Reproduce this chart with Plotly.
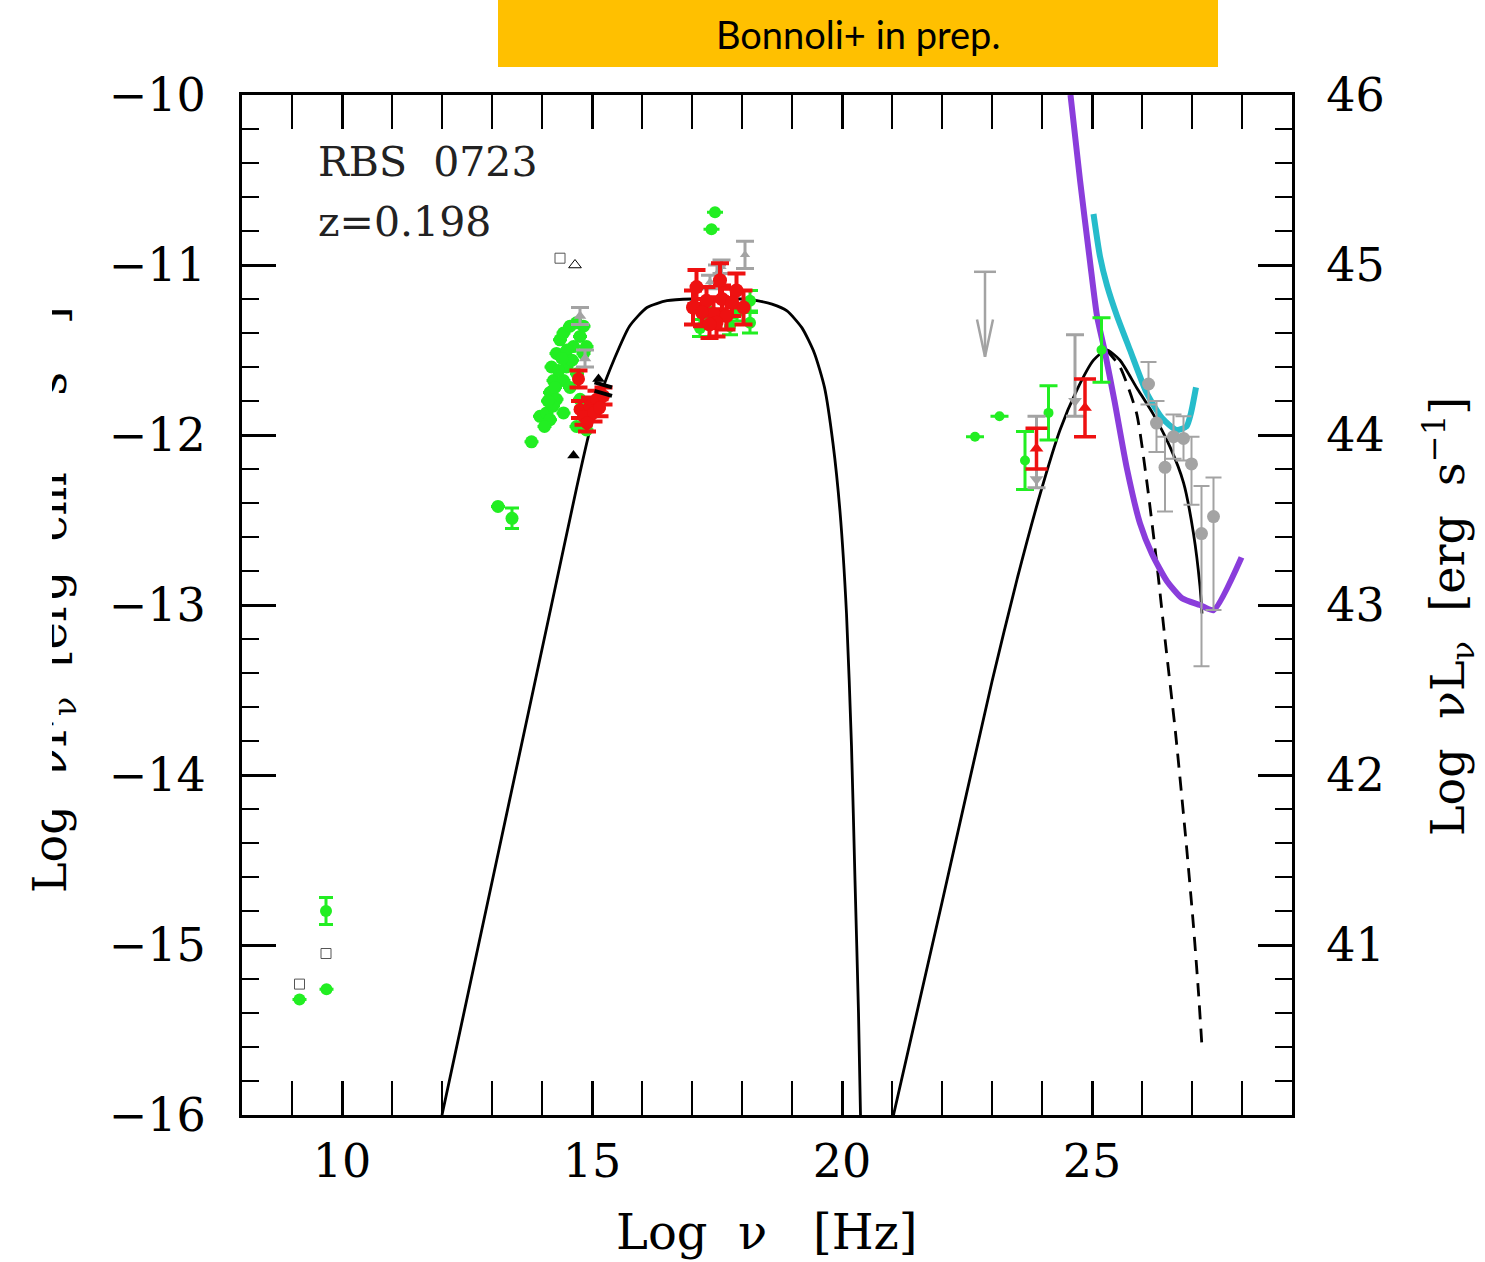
import plotly.graph_objects as go

# ---------------- model curves (Log nu [Hz], Log nuFnu) ----------------
sync_x = [12.0, 12.73, 13.46, 14.19, 14.7, 14.95, 15.15, 15.45, 15.75, 16.1, 16.5, 17.0, 17.5,
          18.0, 18.3, 18.6, 18.9, 19.2, 19.45, 19.65, 19.82, 19.96, 20.09, 20.19, 20.26, 20.33, 20.37]
sync_y = [-16.0, -15.0, -14.0, -13.0, -12.3, -11.98, -11.78, -11.55, -11.36, -11.25, -11.21, -11.2, -11.2,
          -11.2, -11.21, -11.23, -11.27, -11.37, -11.52, -11.72, -12.05, -12.45, -13.05, -13.83, -14.62, -15.4, -16.0]

ic_x = [21.03, 22.0, 23.0, 23.5, 23.96, 24.36, 24.69, 25.03, 25.29, 25.56, 25.89, 26.23, 26.56, 26.83, 27.03, 27.16, 27.2]
ic_y = [-16.0, -14.75, -13.45, -12.85, -12.35, -11.97, -11.74, -11.56, -11.5, -11.56, -11.72, -11.88, -12.07, -12.28, -12.58, -12.89, -13.05]

ext_x = [25.29, 25.56, 25.89, 26.09, 26.29, 26.46, 26.67, 26.89, 27.03, 27.13, 27.2]
ext_y = [-11.5, -11.6, -11.87, -12.26, -12.74, -13.2, -13.75, -14.42, -14.89, -15.28, -15.6]

purple_x = [24.57, 24.76, 24.96, 25.1, 25.25, 25.45, 25.7, 25.96, 26.2, 26.5, 26.8, 27.16, 27.43, 27.99]
purple_y = [-10.0, -10.5, -10.98, -11.3, -11.5, -11.8, -12.2, -12.52, -12.7, -12.86, -12.96, -13.0, -13.03, -12.72]

cyan_x = [25.03, 25.16, 25.3, 25.5, 25.76, 26.09, 26.4, 26.69, 26.89, 26.98, 27.08]
cyan_y = [-10.7, -10.95, -11.12, -11.3, -11.5, -11.75, -11.9, -11.97, -11.95, -11.87, -11.72]

# ---------------- data points ----------------
radio_x = [9.15, 9.69, 9.68]
radio_y = [-15.32, -15.26, -14.8]
radio_err = [0.0, 0.0, 0.08]

green_opt_x = [13.12, 13.40, 13.79, 13.96, 14.09, 14.16, 14.23, 14.19, 14.29, 14.36, 14.43, 14.56, 14.69,
               14.83, 14.76, 14.89, 14.83, 14.49, 14.43, 14.56, 14.29, 14.43, 14.16, 14.69, 14.89, 14.76,
               14.63, 14.33, 14.22, 14.05, 14.5, 14.6, 14.26, 14.4, 14.7, 14.12]
green_opt_y = [-12.42, -12.49, -12.04, -11.89, -11.87, -11.75, -11.68, -11.6, -11.52, -11.44, -11.4, -11.36, -11.34,
               -11.36, -11.42, -11.48, -11.52, -11.6, -11.68, -11.72, -11.79, -11.87, -11.91, -11.95, -11.97, -11.79,
               -11.48, -11.62, -11.83, -11.95, -11.5, -11.56, -11.72, -11.55, -11.64, -11.8]
green_opt_err = [0, 0.06, 0, 0, 0, 0, 0, 0, 0, 0, 0, 0, 0,
                 0, 0, 0, 0, 0, 0, 0, 0, 0, 0, 0, 0, 0,
                 0, 0, 0, 0, 0, 0, 0, 0, 0, 0]

gray_opt_x = [14.76, 14.86]
gray_opt_y = [-11.3, -11.55]
gray_opt_err = [0.05, 0.05]

red_opt_x = [14.73, 14.76, 14.96, 15.09, 14.83, 15.23, 15.03, 14.9, 15.15]
red_opt_y = [-11.67, -11.85, -11.83, -11.79, -11.89, -11.77, -11.87, -11.93, -11.84]
red_opt_err = [0.05, 0.05, 0.05, 0.05, 0.05, 0.05, 0.05, 0.05, 0.05]

bowtie_x = [15.05, 15.4]
bowtie_hi = [-11.69, -11.72]
bowtie_lo = [-11.74, -11.77]

black_tri_x = [14.63, 15.13]
black_tri_y = [-12.12, -11.67]

open_sq_x = [9.15, 9.68, 14.36]
open_sq_y = [-15.23, -15.05, -10.96]
open_tri_x = [14.66]
open_tri_y = [-11.0]

green_x_x = [17.46, 17.39, 18.16, 17.16, 17.76, 18.16, 17.3, 17.9]
green_x_y = [-10.69, -10.79, -11.34, -11.37, -11.36, -11.21, -11.3, -11.28]
green_x_err = [0, 0, 0.06, 0.05, 0.05, 0.06, 0.05, 0.05]

red_x_x = [17.09, 17.02, 17.56, 17.89, 18.03, 17.43, 17.29, 17.69, 17.49, 17.2, 17.6, 17.35, 17.8]
red_x_y = [-11.13, -11.25, -11.09, -11.15, -11.25, -11.29, -11.21, -11.3, -11.34, -11.28, -11.2, -11.35, -11.22]
red_x_err = [0.1, 0.1, 0.1, 0.1, 0.1, 0.08, 0.08, 0.08, 0.08, 0.08, 0.08, 0.08, 0.08]

gray_x_x = [18.06, 17.59, 17.36, 17.5]
gray_x_y = [-10.94, -11.01, -11.1, -11.05]
gray_x_err = [0.08, 0.04, 0.04, 0.05]

green_g_x = [22.66, 23.15, 24.13, 23.66, 25.19]
green_g_y = [-12.01, -11.89, -11.87, -12.15, -11.5]
green_g_err = [0, 0, 0.16, 0.17, 0.19]

red_g_x = [23.89, 24.86]
red_g_y = [-12.08, -11.84]
red_g_err = [0.12, 0.17]

gray_g_x = [23.89, 24.66]
gray_g_y = [-12.26, -11.8]
gray_g_up = [0.37, 0.39]
gray_g_dn = [0.05, 0.09]

vhe_x = [26.13, 26.29, 26.63, 26.83, 26.46, 26.99, 27.19, 27.43]
vhe_y = [-11.7, -11.93, -12.01, -12.02, -12.19, -12.17, -12.58, -12.48]
vhe_up = [0.13, 0.13, 0.13, 0.13, 0.18, 0.16, 0.28, 0.23]
vhe_dn = [0.12, 0.17, 0.13, 0.13, 0.26, 0.24, 0.78, 0.55]

ul_x = [22.86]
ul_y = [-11.04]
ul_len = [0.5]

# tick labels
x_ticks = [10, 15, 20, 25]
y_ticks = [-16, -15, -14, -13, -12, -11, -10]
y2_ticks = [41, 42, 43, 44, 45, 46]
y2_offset = 56

GREEN = "#22ee22"
RED = "#ee1111"
GRAY = "#a3a3a3"
W, H = 1485, 1262
X0, X1, YT, YB = 242, 1292, 95, 1115

fig = go.Figure()

def line(x, y, color, width, dash=None, smooth=True):
    fig.add_trace(go.Scatter(x=x, y=y, mode="lines",
                             line=dict(color=color, width=width, dash=dash,
                                       shape="spline" if smooth else "linear", smoothing=0.6),
                             showlegend=False, hoverinfo="skip"))

line(sync_x, sync_y, "black", 2.8)
line(ic_x, ic_y, "black", 2.8)
line(ext_x, ext_y, "black", 2.8, dash="14px,9px")
line(purple_x, purple_y, "#8a3ddb", 6)
line(cyan_x, cyan_y, "#26bccb", 6)

def pts(x, y, color, symbol="circle", size=11, up=None, dn=None, capw=6, ew=3, fill=True):
    err = None
    if up is not None:
        err = dict(type="data", symmetric=dn is None, array=up,
                   arrayminus=dn if dn is not None else up,
                   color=color, thickness=ew, width=capw, visible=True)
    fig.add_trace(go.Scatter(x=x, y=y, mode="markers",
                             marker=dict(color=color if fill else "rgba(0,0,0,0)", symbol=symbol, size=size,
                                         line=dict(color=color, width=1.5 if not fill else 0)),
                             error_y=err, showlegend=False, hoverinfo="skip"))

pts(radio_x, radio_y, GREEN, up=radio_err, capw=7, size=12)
pts(green_opt_x, green_opt_y, GREEN, up=green_opt_err, capw=7, size=13)
pts(gray_opt_x, gray_opt_y, GRAY, symbol="triangle-up", size=11, up=gray_opt_err, capw=9)
pts(red_opt_x, red_opt_y, RED, symbol="circle", size=13, up=red_opt_err, capw=9, ew=4)
for xa, ya in ((bowtie_x, bowtie_hi), (bowtie_x, bowtie_lo)):
    fig.add_trace(go.Scatter(x=xa, y=ya, mode="lines", line=dict(color="black", width=4),
                             showlegend=False, hoverinfo="skip"))
pts(black_tri_x, black_tri_y, "black", symbol="triangle-up", size=11)
pts(open_sq_x, open_sq_y, "#555555", symbol="square-open", size=10, fill=True)
pts(open_tri_x, open_tri_y, "black", symbol="triangle-up-open", size=11, fill=True)

pts(green_x_x, green_x_y, GREEN, up=green_x_err, capw=8, size=12)
pts(gray_x_x, gray_x_y, GRAY, symbol="triangle-up", size=9, up=gray_x_err, capw=9)
pts(red_x_x, red_x_y, RED, symbol="circle", size=14, up=red_x_err, capw=9, ew=4)

pts(green_g_x, green_g_y, GREEN, up=green_g_err, capw=9, size=10)
pts(gray_g_x, gray_g_y, GRAY, symbol="triangle-down", size=12, up=gray_g_up, dn=gray_g_dn, capw=9)
pts(red_g_x, red_g_y, RED, symbol="triangle-up", size=12, up=red_g_err, capw=11, ew=3.5)
pts(vhe_x, vhe_y, GRAY, up=vhe_up, dn=vhe_dn, capw=8, ew=2, size=13)

# upper limit arrow built from the ul arrays
for xu, yu, lu in zip(ul_x, ul_y, ul_len):
    fig.add_trace(go.Scatter(x=[xu - 0.22, xu + 0.22, None, xu, xu, None, xu - 0.16, xu, xu + 0.16],
                             y=[yu, yu, None, yu, yu - lu, None, yu - lu + 0.22, yu - lu, yu - lu + 0.22],
                             mode="lines", line=dict(color=GRAY, width=2.5),
                             showlegend=False, hoverinfo="skip"))

# invisible trace to activate right axis
fig.add_trace(go.Scatter(x=[None], y=[None], yaxis="y2", showlegend=False))

SERIF = "DejaVu Serif"
tickfont = dict(family=SERIF, size=46, color="black")
common = dict(showline=True, linecolor="black", linewidth=3, ticks="inside", tickcolor="black",
              tickwidth=2.5, ticklen=34, showgrid=False, zeroline=False, tickfont=tickfont,
              automargin=False)

fig.update_layout(
    width=W, height=H, margin=dict(l=0, r=0, t=0, b=0, autoexpand=False),
    plot_bgcolor="white", paper_bgcolor="white", showlegend=False,
    xaxis=dict(domain=[X0 / W, X1 / W], range=[8, 29], tickmode="array", tickvals=x_ticks,
               mirror="allticks", ticklabelstandoff=4,
               minor=dict(dtick=1, tick0=0, ticks="inside", ticklen=17, tickwidth=2, tickcolor="black"),
               **common),
    yaxis=dict(domain=[(H - YB) / H, (H - YT) / H], range=[-16, -10], tickmode="array", tickvals=y_ticks,
               ticklabelstandoff=24,
               minor=dict(dtick=0.2, tick0=0, ticks="inside", ticklen=17, tickwidth=2, tickcolor="black"),
               **common),
    yaxis2=dict(overlaying="y", side="right", range=[-16 + y2_offset, -10 + y2_offset],
                tickmode="array", tickvals=y2_ticks, ticklabelstandoff=22,
                minor=dict(dtick=0.2, tick0=0, ticks="inside", ticklen=17, tickwidth=2, tickcolor="black"),
                **common),
)

# banner
fig.add_shape(type="rect", xref="paper", yref="paper", x0=498 / W, x1=1218 / W, y0=1 - 67 / H, y1=1,
              fillcolor="#ffc000", line=dict(width=0), layer="above")
fig.add_annotation(text="Bonnoli+ in prep.", xref="paper", yref="paper", x=858 / W, y=1 - 34 / H,
                   showarrow=False, font=dict(family="Lato", size=38, color="black"),
                   xanchor="center", yanchor="middle")

# labels inside plot
fig.add_annotation(text="RBS\u00a0\u00a00723", xref="paper", yref="paper", x=316 / W, y=1 - 162 / H,
                   showarrow=False, font=dict(family=SERIF, size=41, color="#222"), xanchor="left", yanchor="middle")
fig.add_annotation(text="z=0.198", xref="paper", yref="paper", x=316 / W, y=1 - 222 / H,
                   showarrow=False, font=dict(family=SERIF, size=41, color="#222"), xanchor="left", yanchor="middle")

# axis titles
fig.add_annotation(text="Log\u00a0\u00a0\u03bd\u00a0\u00a0\u00a0[Hz]", xref="paper", yref="paper",
                   x=767 / W, y=1 - 1232 / H, showarrow=False,
                   font=dict(family=SERIF, size=48, color="black"), xanchor="center", yanchor="middle")
fig.add_annotation(text="Log\u00a0\u00a0\u03bdL<sub>\u03bd</sub>\u00a0\u00a0[erg\u00a0\u00a0s<sup>\u22121</sup>]",
                   xref="paper", yref="paper", x=1448 / W, y=1 - 617 / H, showarrow=False, textangle=-90,
                   font=dict(family=SERIF, size=46, color="black"), xanchor="center", yanchor="middle")
fig.add_annotation(text="Log\u00a0\u00a0\u03bdF<sub>\u03bd</sub>\u00a0\u00a0[erg\u00a0\u00a0cm<sup>\u22122</sup>\u00a0\u00a0s<sup>\u22121</sup>]",
                   xref="paper", yref="paper", x=50 / W, y=1 - 600 / H, showarrow=False, textangle=-90,
                   font=dict(family=SERIF, size=46, color="black"), xanchor="center", yanchor="middle")
# white cover that hides part of the left title (as in the original image)
fig.add_annotation(text="\u00a0", xref="paper", yref="paper", x=0, y=1 - 230 / H, showarrow=False,
                   xanchor="left", yanchor="top", width=52, height=590, bgcolor="white",
                   borderpad=0, borderwidth=0)

fig.write_html("out.html")
